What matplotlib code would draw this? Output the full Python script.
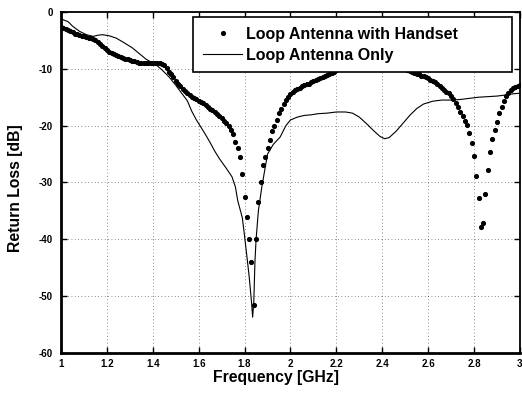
import numpy as np
import matplotlib
matplotlib.use('Agg')
import matplotlib.pyplot as plt

plt.rcParams['font.family'] = ['Liberation Sans', 'DejaVu Sans']
plt.rcParams['axes.unicode_minus'] = False

# measured sweep, 1-3 GHz in 0.01 GHz steps (handset case)
freq_handset = np.linspace(1.0, 3.0, 201)
rl_handset = [
    -2.6, -2.8, -3.0, -3.2, -3.4, -3.6, -3.8, -3.9, -4.0, -4.2,
    -4.3, -4.4, -4.5, -4.6, -4.8, -5.0, -5.3, -5.6, -6.0, -6.4,
    -6.7, -7.0, -7.2, -7.4, -7.6, -7.8, -7.9, -8.1, -8.2, -8.3,
    -8.5, -8.6, -8.7, -8.8, -8.9, -8.9, -9.0, -9.0, -9.0, -9.0,
    -9.0, -9.0, -9.0, -9.0, -9.1, -9.4, -9.9, -10.5, -11.0, -11.4,
    -12.1, -12.7, -13.1, -13.5, -13.9, -14.3, -14.6, -14.9, -15.2, -15.4,
    -15.6, -15.8, -16.1, -16.4, -16.7, -17.0, -17.3, -17.6, -17.9, -18.3,
    -18.7, -19.1, -19.5, -20.1, -20.8, -21.5, -22.8, -24.0, -25.5, -28.5,
    -32.5, -36.0, -40.0, -44.0, -51.5, -40.0, -33.5, -30.0, -27.0, -25.5,
    -24.0, -22.5, -21.0, -20.0, -19.0, -17.8, -17.0, -16.2, -15.5, -15.0,
    -14.5, -14.1, -13.8, -13.6, -13.3, -13.1, -12.9, -12.7, -12.6, -12.4,
    -12.2, -12.0, -11.8, -11.7, -11.5, -11.3, -11.1, -10.9, -10.7, -10.5,
    -10.2, -10.0, -9.8, -9.6, -9.4, -9.2, -9.0, -8.9, -8.8, -8.7,
    -8.6, -8.5, -8.5, -8.4, -8.4, -8.4, -8.4, -8.5, -8.5, -8.6,
    -8.7, -8.8, -8.9, -9.0, -9.1, -9.3, -9.4, -9.6, -9.8, -9.9,
    -10.1, -10.3, -10.4, -10.6, -10.8, -10.9, -11.0, -11.2, -11.3, -11.5,
    -11.7, -11.9, -12.1, -12.4, -12.7, -13.0, -13.3, -13.7, -14.0, -14.3,
    -14.8, -15.4, -16.0, -16.8, -17.6, -18.3, -19.1, -19.9, -21.3, -23.0,
    -25.3, -28.8, -32.8, -37.8, -37.2, -32.0, -27.8, -24.6, -22.3, -20.7,
    -19.4, -17.8, -16.8, -15.6, -14.8, -14.2, -13.8, -13.4, -13.2, -13.0,
    -12.8,
]

# antenna alone
freq_only = [
    1.00, 1.01, 1.03, 1.05, 1.08, 1.11, 1.14, 1.16, 1.18, 1.21,
    1.24, 1.27, 1.31, 1.34, 1.37, 1.40, 1.42, 1.44, 1.47, 1.50,
    1.52, 1.55, 1.57, 1.59, 1.61, 1.63, 1.65, 1.67, 1.69, 1.72,
    1.745, 1.76, 1.77, 1.79, 1.80, 1.81, 1.82, 1.83, 1.835, 1.84,
    1.845, 1.85, 1.86, 1.875, 1.89, 1.90, 1.925, 1.955, 1.98, 2.00,
    2.03, 2.06, 2.09, 2.12, 2.16, 2.20, 2.24, 2.27, 2.30, 2.33,
    2.36, 2.39, 2.41, 2.43, 2.46, 2.49, 2.52, 2.55, 2.58, 2.62,
    2.66, 2.70, 2.74, 2.78, 2.82, 2.86, 2.90, 2.94, 2.97, 3.00,
]
rl_only = [
    -1.0, -1.4, -1.7, -2.5, -3.4, -4.0, -4.3, -4.1, -4.0, -4.2,
    -4.6, -5.3, -6.3, -7.3, -8.3, -9.0, -9.5, -10.2, -11.4, -12.9,
    -14.0, -15.6, -17.5, -19.0, -20.3, -21.6, -23.0, -24.5, -25.8, -27.5,
    -29.0, -30.8, -33.2, -36.2, -39.5, -43.0, -46.6, -51.0, -53.7, -51.0,
    -44.0, -40.0, -35.0, -30.8, -27.3, -25.0, -23.3, -22.0, -20.0, -19.0,
    -18.5, -18.2, -18.1, -17.9, -17.8, -17.6, -17.6, -17.8, -18.5, -19.6,
    -20.8, -21.9, -22.3, -22.1, -21.0, -19.6, -18.2, -17.0, -16.2, -15.7,
    -15.5, -15.5, -15.4, -15.2, -15.0, -14.9, -14.8, -14.6, -14.4, -14.3,
]

x_ticks = [1, 1.2, 1.4, 1.6, 1.8, 2, 2.2, 2.4, 2.6, 2.8, 3]
x_labels = ['1', '1.2', '1.4', '1.6', '1.8', '2', '2.2', '2.4', '2.6', '2.8', '3']
y_ticks = [0, -10, -20, -30, -40, -50, -60]
y_labels = ['0', '-10', '-20', '-30', '-40', '-50', '-60']

fig = plt.figure(figsize=(5.22, 3.98), dpi=100)
ax = fig.add_axes([0.117, 0.113, 0.879, 0.857])

ax.plot(freq_handset, rl_handset, linestyle='none', marker='o', markersize=2.7,
        color='black', label='Loop Antenna with Handset')
ax.plot(freq_only, rl_only, color='black', linewidth=0.8, label='Loop Antenna Only')

ax.set_xlim(1, 3)
ax.set_ylim(-60, 0)
ax.set_xticks(x_ticks)
ax.set_xticklabels(x_labels)
ax.set_yticks(y_ticks)
ax.set_yticklabels(y_labels)
ax.grid(True, linestyle=(0, (1, 3)), color='black', linewidth=0.6, alpha=0.6)

ax.tick_params(axis='both', direction='in', length=4, width=1, labelsize=7,
               top=True, right=True)
ax.tick_params(axis='x', pad=4)
ax.tick_params(axis='y', pad=6)
for lbl in ax.get_xticklabels() + ax.get_yticklabels():
    lbl.set_fontweight('bold')

for side, spine in ax.spines.items():
    spine.set_linewidth(2 if side in ('left', 'bottom') else 1.3)

ax.set_xlabel('Frequency [GHz]', fontsize=11.3, fontweight='bold')
ax.xaxis.set_label_coords(0.469, -0.05)
ax.set_ylabel('Return Loss [dB]', fontsize=11.3, fontweight='bold')
ax.yaxis.set_label_coords(-0.083, 0.484)

# wide MATLAB-style legend box, entries packed to the left
leg = ax.legend(loc='upper left', bbox_to_anchor=(0.288, 0.830, 0.695, 0.155),
                mode='expand', fancybox=False, framealpha=1, edgecolor='black',
                prop={'size': 11.5, 'weight': 'bold'},
                handlelength=2.45, handletextpad=0.25, borderpad=0.62,
                labelspacing=0.35, borderaxespad=0.0)
leg.get_frame().set_linewidth(1.2)
leg.set_zorder(5)

fig.savefig('out.png', dpi=100)
